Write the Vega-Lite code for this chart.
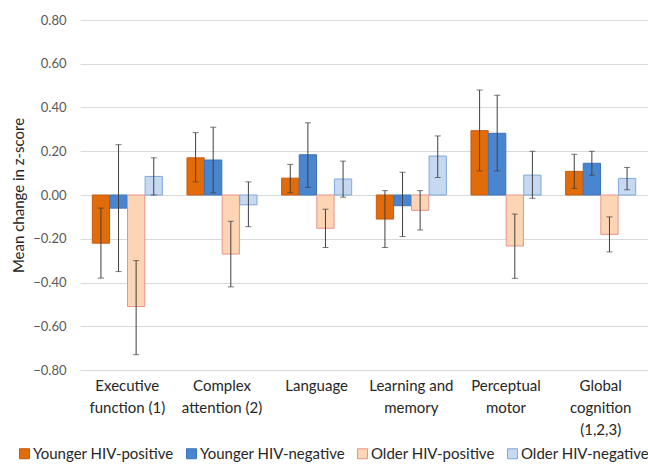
{
  "$schema": "https://vega.github.io/schema/vega-lite/v6.json",
  "width": 568,
  "height": 350,
  "autosize": {"type": "none"},
  "padding": {"left": 80, "top": 20, "right": 0, "bottom": 94},
  "background": "white",
  "config": {
    "view": {"stroke": null},
    "font": "Lato"
  },
  "data": {
    "values": [
      {"domain": "Executive\nfunction (1)", "group": "Younger HIV-positive", "value": -0.22, "lo": -0.38, "hi": -0.06},
      {"domain": "Executive\nfunction (1)", "group": "Younger HIV-negative", "value": -0.06, "lo": -0.35, "hi": 0.23},
      {"domain": "Executive\nfunction (1)", "group": "Older HIV-positive", "value": -0.51, "lo": -0.73, "hi": -0.30},
      {"domain": "Executive\nfunction (1)", "group": "Older HIV-negative", "value": 0.085, "lo": 0.0, "hi": 0.17},
      {"domain": "Complex\nattention (2)", "group": "Younger HIV-positive", "value": 0.17, "lo": 0.06, "hi": 0.285},
      {"domain": "Complex\nattention (2)", "group": "Younger HIV-negative", "value": 0.16, "lo": 0.01, "hi": 0.31},
      {"domain": "Complex\nattention (2)", "group": "Older HIV-positive", "value": -0.27, "lo": -0.42, "hi": -0.12},
      {"domain": "Complex\nattention (2)", "group": "Older HIV-negative", "value": -0.045, "lo": -0.145, "hi": 0.06},
      {"domain": "Language", "group": "Younger HIV-positive", "value": 0.077, "lo": 0.01, "hi": 0.14},
      {"domain": "Language", "group": "Younger HIV-negative", "value": 0.184, "lo": 0.035, "hi": 0.33},
      {"domain": "Language", "group": "Older HIV-positive", "value": -0.152, "lo": -0.24, "hi": -0.065},
      {"domain": "Language", "group": "Older HIV-negative", "value": 0.073, "lo": -0.01, "hi": 0.155},
      {"domain": "Learning and\nmemory", "group": "Younger HIV-positive", "value": -0.11, "lo": -0.24, "hi": 0.02},
      {"domain": "Learning and\nmemory", "group": "Younger HIV-negative", "value": -0.049, "lo": -0.19, "hi": 0.104},
      {"domain": "Learning and\nmemory", "group": "Older HIV-positive", "value": -0.07, "lo": -0.16, "hi": 0.02},
      {"domain": "Learning and\nmemory", "group": "Older HIV-negative", "value": 0.178, "lo": 0.08, "hi": 0.27},
      {"domain": "Perceptual\nmotor", "group": "Younger HIV-positive", "value": 0.294, "lo": 0.11, "hi": 0.48},
      {"domain": "Perceptual\nmotor", "group": "Younger HIV-negative", "value": 0.282, "lo": 0.11, "hi": 0.456},
      {"domain": "Perceptual\nmotor", "group": "Older HIV-positive", "value": -0.233, "lo": -0.381, "hi": -0.087},
      {"domain": "Perceptual\nmotor", "group": "Older HIV-negative", "value": 0.091, "lo": -0.015, "hi": 0.20},
      {"domain": "Global\ncognition\n(1,2,3)", "group": "Younger HIV-positive", "value": 0.108, "lo": 0.03, "hi": 0.186},
      {"domain": "Global\ncognition\n(1,2,3)", "group": "Younger HIV-negative", "value": 0.145, "lo": 0.09, "hi": 0.20},
      {"domain": "Global\ncognition\n(1,2,3)", "group": "Older HIV-positive", "value": -0.18, "lo": -0.26, "hi": -0.10},
      {"domain": "Global\ncognition\n(1,2,3)", "group": "Older HIV-negative", "value": 0.076, "lo": 0.024, "hi": 0.126}
    ]
  },
  "encoding": {
    "x": {
      "field": "domain",
      "type": "nominal",
      "sort": null,
      "scale": {"paddingInner": 0.26, "paddingOuter": 0.13},
      "axis": {
        "title": null,
        "orient": "bottom",
        "domain": false,
        "ticks": false,
        "labelAngle": 0,
        "labelExpr": "split(datum.label, '\\n')",
        "labelFontSize": 15,
        "labelColor": "#262626",
        "labelLineHeight": 22,
        "labelPadding": 8,
        "labelBaseline": "top",
        "labelLimit": 0
      }
    },
    "xOffset": {
      "field": "group",
      "type": "nominal",
      "sort": ["Younger HIV-positive", "Younger HIV-negative", "Older HIV-positive", "Older HIV-negative"],
      "scale": {"paddingInner": 0.02}
    }
  },
  "layer": [
    {
      "mark": {"type": "bar", "strokeWidth": 1},
      "encoding": {
        "y": {
          "field": "value",
          "type": "quantitative",
          "scale": {"domain": [-0.8, 0.8], "nice": false},
          "axis": {
            "title": "Mean change in z-score",
            "values": [-0.8, -0.6, -0.4, -0.2, 0, 0.2, 0.4, 0.6, 0.8],
            "format": ".2f",
            "domain": false,
            "ticks": false,
            "tickSize": 0,
            "labelPadding": 14,
            "labelFontSize": 13,
            "labelColor": "#595959",
            "grid": true,
            "gridColor": "#D9D9D9",
            "gridWidth": 1,
            "titleFontSize": 15,
            "titleFontWeight": "normal",
            "titleColor": "#262626",
            "titleX": -62,
            "titleY": 175,
            "titleAngle": -90,
            "titleAlign": "center",
            "titleBaseline": "middle"
          }
        },
        "y2": {"datum": 0},
        "fill": {
          "field": "group",
          "type": "nominal",
          "sort": ["Younger HIV-positive", "Younger HIV-negative", "Older HIV-positive", "Older HIV-negative"],
          "scale": {
            "domain": ["Younger HIV-positive", "Younger HIV-negative", "Older HIV-positive", "Older HIV-negative"],
            "range": ["#E36C0A", "#4A86D0", "#FCD5B5", "#C6D9F1"]
          },
          "legend": {
            "title": null,
            "orient": "none",
            "legendX": -63,
            "legendY": 426,
            "direction": "horizontal",
            "columns": 4,
            "symbolType": "square",
            "symbolSize": 100,
            "symbolStrokeWidth": 1,
            "labelFontSize": 15,
            "labelColor": "#262626",
            "labelOffset": 1,
            "columnPadding": 10,
            "labelLimit": 0
          }
        },
        "stroke": {
          "field": "group",
          "type": "nominal",
          "sort": ["Younger HIV-positive", "Younger HIV-negative", "Older HIV-positive", "Older HIV-negative"],
          "scale": {
            "domain": ["Younger HIV-positive", "Younger HIV-negative", "Older HIV-positive", "Older HIV-negative"],
            "range": ["#C55A11", "#3B73BA", "#E8938A", "#7FA8DC"]
          },
          "legend": {
            "title": null,
            "orient": "none",
            "legendX": -63,
            "legendY": 426,
            "direction": "horizontal",
            "columns": 4,
            "symbolType": "square",
            "symbolSize": 100,
            "labelFontSize": 15,
            "labelColor": "#262626",
            "labelOffset": 1,
            "columnPadding": 10,
            "labelLimit": 0
          }
        }
      }
    },
    {
      "mark": {"type": "rule", "color": "#404040", "strokeWidth": 1},
      "encoding": {
        "y": {"field": "lo", "type": "quantitative"},
        "y2": {"field": "hi"}
      }
    },
    {
      "mark": {"type": "tick", "color": "#404040", "thickness": 1, "size": 6},
      "encoding": {
        "y": {"field": "lo", "type": "quantitative"}
      }
    },
    {
      "mark": {"type": "tick", "color": "#404040", "thickness": 1, "size": 6},
      "encoding": {
        "y": {"field": "hi", "type": "quantitative"}
      }
    }
  ]
}
